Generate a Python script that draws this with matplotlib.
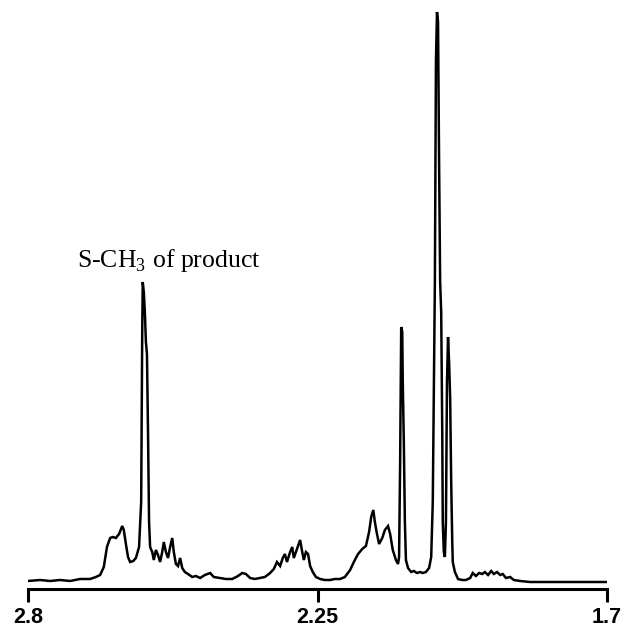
import matplotlib
matplotlib.use("Agg")
import matplotlib.pyplot as plt

# 1H NMR trace, chemical shift (ppm) and intensity (arbitrary units)
shift_ppm = [
    2.800, 2.777, 2.758, 2.739, 2.720, 2.701, 2.682, 2.671, 2.663, 2.656,
    2.650, 2.644, 2.639, 2.633, 2.627, 2.621, 2.618, 2.614, 2.610, 2.606,
    2.600, 2.595, 2.589, 2.585, 2.583, 2.582, 2.580, 2.578, 2.576, 2.574,
    2.572, 2.570, 2.568, 2.564, 2.561, 2.557, 2.553, 2.549, 2.545, 2.542,
    2.538, 2.534, 2.530, 2.526, 2.523, 2.519, 2.515, 2.511, 2.507, 2.502,
    2.496, 2.488, 2.481, 2.473, 2.464, 2.454, 2.447, 2.435, 2.424, 2.412,
    2.401, 2.393, 2.386, 2.378, 2.369, 2.359, 2.350, 2.340, 2.333, 2.327,
    2.321, 2.316, 2.312, 2.308, 2.302, 2.298, 2.295, 2.291, 2.287, 2.283,
    2.279, 2.276, 2.272, 2.268, 2.264, 2.259, 2.253, 2.245, 2.236, 2.226,
    2.217, 2.207, 2.198, 2.188, 2.181, 2.173, 2.165, 2.158, 2.152, 2.148,
    2.144, 2.141, 2.137, 2.133, 2.127, 2.122, 2.116, 2.112, 2.107, 2.101,
    2.097, 2.095, 2.093, 2.091, 2.089, 2.088, 2.086, 2.084, 2.082, 2.078,
    2.072, 2.067, 2.061, 2.055, 2.050, 2.044, 2.038, 2.034, 2.031, 2.027,
    2.025, 2.023, 2.021, 2.019, 2.017, 2.015, 2.013, 2.012, 2.010, 2.008,
    2.006, 2.004, 2.002, 2.000, 1.998, 1.996, 1.994, 1.993, 1.989, 1.983,
    1.975, 1.968, 1.960, 1.955, 1.949, 1.943, 1.937, 1.932, 1.926, 1.920,
    1.915, 1.909, 1.903, 1.898, 1.892, 1.884, 1.877, 1.865, 1.846, 1.827,
    1.789, 1.751, 1.713, 1.700,
]
intensity = [
    1, 2, 1, 2, 1, 3, 3, 5, 7, 15,
    35, 44, 45, 44, 48, 56, 52, 38, 25, 20,
    21, 24, 35, 80, 250, 300, 290, 270, 240, 228,
    150, 60, 35, 30, 22, 32, 27, 20, 30, 40,
    30, 24, 35, 44, 30, 18, 16, 24, 14, 10,
    8, 5, 6, 4, 7, 9, 5, 4, 3, 3,
    6, 9, 8, 4, 3, 4, 5, 9, 13, 20,
    16, 24, 28, 20, 30, 35, 24, 30, 36, 42,
    30, 22, 30, 28, 16, 10, 5, 3, 2, 2,
    3, 3, 5, 12, 20, 28, 33, 36, 50, 65,
    72, 60, 48, 38, 44, 52, 56, 48, 32, 22,
    18, 25, 120, 255, 250, 200, 140, 60, 22, 14,
    10, 11, 9, 10, 9, 10, 14, 25, 80, 300,
    520, 570, 560, 420, 300, 270, 150, 60, 30, 25,
    60, 200, 245, 220, 185, 100, 40, 20, 10, 3,
    2, 2, 4, 9, 6, 9, 8, 10, 7, 11,
    8, 10, 7, 8, 4, 5, 2, 1, 0, 0,
    0, 0, 0, 0,
]

tick_values = [2.8, 2.25, 1.7]
tick_labels = ["2.8", "2.25", "1.7"]

plt.rcParams['mathtext.fontset'] = 'custom'
plt.rcParams['mathtext.rm'] = 'Liberation Serif'

W, H = 622, 630
fig = plt.figure(figsize=(W / 100, H / 100), dpi=100)
# axes placed in pixel terms: x 28..607, bottom spine at y=589, top at y=5
ax = fig.add_axes([28 / W, (H - 589) / H, (607 - 28) / W, (589 - 5) / H])

ax.plot(shift_ppm, intensity, color='black', lw=1.8, solid_joinstyle='miter')

ax.set_xlim(2.8, 1.7)
ax.set_ylim(-7, 577)

for side in ['top', 'left', 'right']:
    ax.spines[side].set_visible(False)
ax.spines['bottom'].set_linewidth(2.2)
ax.spines['bottom'].set_capstyle('projecting')

ax.set_yticks([])
ax.set_xticks(tick_values)
ax.set_xticklabels(tick_labels, fontfamily='Liberation Sans', fontweight='bold', fontsize=15.5)
ax.tick_params(axis='x', direction='out', length=9.5, width=2.2, pad=3.5)

ax.text(2.707, 315, r"S-CH$_\mathrm{3}$ of product", fontfamily='Liberation Serif',
        fontsize=18.5, ha='left', va='baseline')

fig.savefig("out.png", dpi=100)
